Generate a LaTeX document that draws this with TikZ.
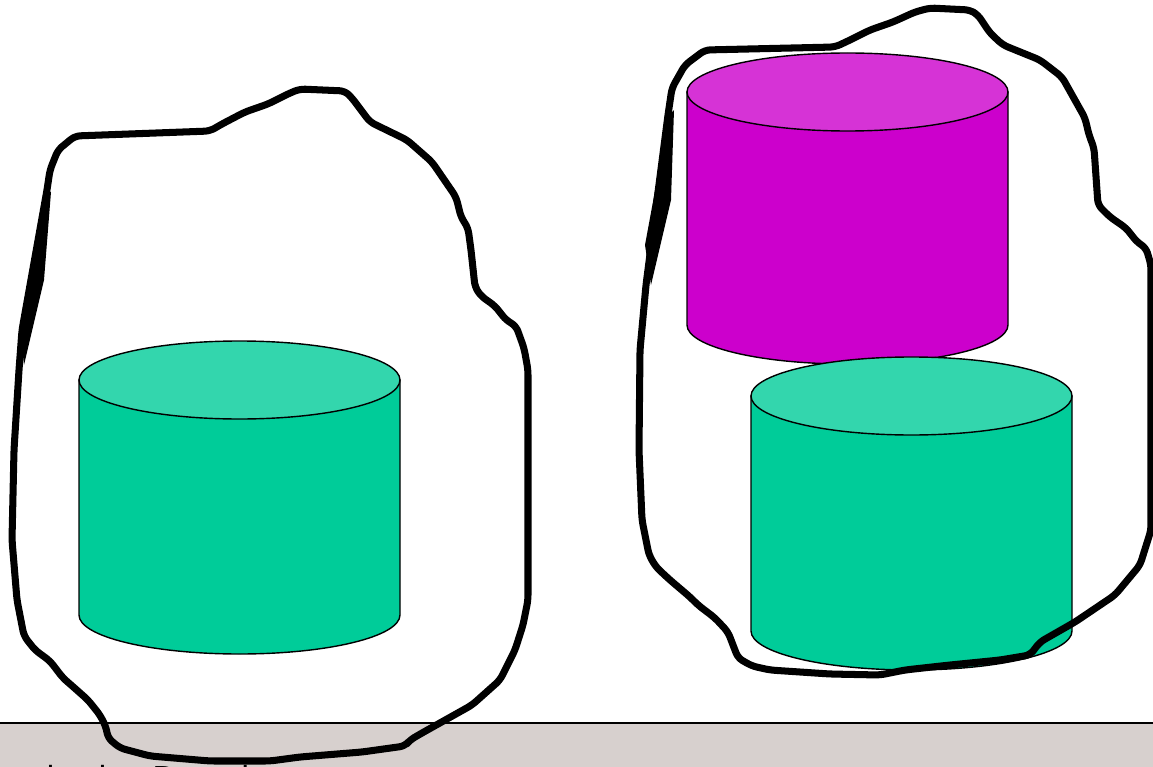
\documentclass[tikz,border=0pt]{standalone}
\usepackage{fontspec}
\setmainfont{Liberation Sans}
\definecolor{drumgreen}{HTML}{00CC99}
\definecolor{drumgreentop}{HTML}{33D6AD}
\definecolor{drummag}{HTML}{CC00CC}
\definecolor{drummagtop}{HTML}{D633D6}
\definecolor{bandgray}{HTML}{D7D0CE}
\tikzset{
  blob/.style={draw=black, line width=4pt, line join=round, rounded corners=3pt},
  sliver/.style={fill=black},
  drum/.style={draw=black, line width=0.8pt},
  footer/.style={anchor=base west, inner sep=0pt, font=\fontsize{19}{22}\selectfont}
}
\begin{document}
\begin{tikzpicture}[x=0.02cm, y=-0.02cm]
  \useasboundingbox (0,0) rectangle (1153,767);
  \clip (0,0) rectangle (1153,767);
  \fill[white] (0,0) rectangle (1153,767);

  % footer band
  \fill[bandgray] (0,723) rectangle (1153,767);
  \draw[line width=1.1pt] (0,723) -- (1153,723);
  \node[footer] (caption) at (28,789) {nication Domain};

  % drums: centre x / top y / bottom y / side / top
  \foreach \cx/\yt/\yb/\side/\lid in {239.5/380/615/drumgreen/drumgreentop,
      847.5/92/325/drummag/drummagtop, 911.5/396/631/drumgreen/drumgreentop}{
    \draw[drum, fill=\side] (\cx-160.5,\yt) -- (\cx-160.5,\yb)
      arc[start angle=180, end angle=0, x radius=160.5, y radius=39]
      -- (\cx+160.5,\yt) -- cycle;
    \draw[drum, fill=\lid] (\cx,\yt) ellipse [x radius=160.5, y radius=39];
  }

  % left outline
  \draw[blob] (58,150) -- (75,136) -- (210,131) -- (222,124) -- (245,112) -- (268,104)
    -- (290,93) -- (300,89) -- (345,91) -- (352,98) -- (370,122) -- (407,140)
    -- (432,162) -- (456,197) -- (461,217) -- (468,228) -- (471,250) -- (475,287)
    -- (481,296) -- (495,306) -- (506,320) -- (516,326) -- (524,348) -- (528,370)
    -- (528,600) -- (523,625) -- (515,650) -- (500,680) -- (472,705) -- (422,733)
    -- (410,740) -- (405,746) -- (362,752) -- (300,757) -- (270,761) -- (210,761)
    -- (150,756) -- (120,748) -- (108,738) -- (106,727) -- (100,715) -- (88,700)
    -- (70,684) -- (63,678) -- (50,661) -- (35,650) -- (24,636) -- (17,600)
    -- (12,540) -- (14,450) -- (19,370) -- (22,330) -- (47,190) -- (50,170) -- cycle;
  \fill[sliver] (20,328) -- (46,190) -- (51,192) -- (44,280) -- (24,365) -- cycle;

  % right outline
  \draw[blob] (685,65) -- (705,50) -- (835,47) -- (848,41) -- (870,30) -- (893,22)
    -- (915,12) -- (930,8) -- (970,10) -- (978,15) -- (990,33) -- (1003,45)
    -- (1040,60) -- (1062,77) -- (1085,118) -- (1089,135) -- (1094,148) -- (1098,205)
    -- (1110,217) -- (1126,228) -- (1137,242) -- (1146,248) -- (1151,265) -- (1151,530)
    -- (1140,565) -- (1115,595) -- (1075,622) -- (1040,642) -- (1030,655) -- (1000,660)
    -- (950,665) -- (905,670) -- (880,675) -- (830,674) -- (770,670) -- (752,666)
    -- (738,658) -- (733,645) -- (728,632) -- (715,618) -- (698,605) -- (690,597)
    -- (670,580) -- (656,567) -- (649,555) -- (642,520) -- (639,450) -- (640,350)
    -- (646,285) -- (668,115) -- (672,88) -- cycle;
  \fill[sliver] (645,245) -- (669,115) -- (674,110) -- (671,200) -- (651,285) -- cycle;
\end{tikzpicture}
\end{document}
